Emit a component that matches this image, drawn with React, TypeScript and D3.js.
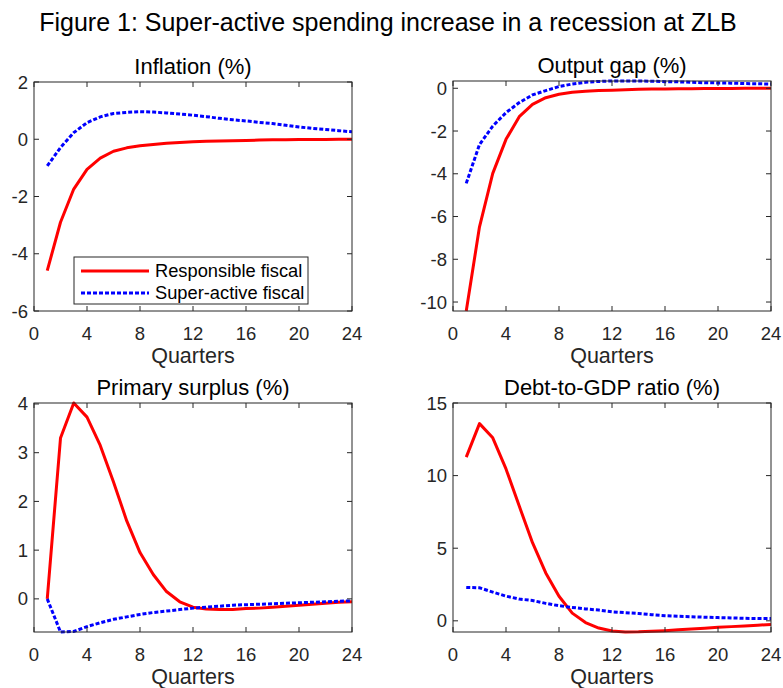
import * as d3 from 'd3';

const quarters = d3.range(1, 25);

// Inflation (%)
const inflationResponsible = [-4.59, -2.9, -1.74, -1.05, -0.66, -0.42, -0.3, -0.23, -0.18, -0.14, -0.11, -0.09, -0.07, -0.06, -0.05, -0.04, -0.03, -0.02, -0.02, -0.01, -0.01, -0.01, 0, 0];
const inflationSuper = [-0.93, -0.29, 0.23, 0.58, 0.78, 0.9, 0.94, 0.965, 0.95, 0.92, 0.88, 0.84, 0.79, 0.73, 0.68, 0.64, 0.59, 0.55, 0.49, 0.43, 0.38, 0.34, 0.3, 0.26];

// Output gap (%)
const outputResponsible = [-10.42, -6.48, -3.98, -2.39, -1.33, -0.75, -0.44, -0.28, -0.19, -0.14, -0.11, -0.09, -0.07, -0.05, -0.04, -0.03, -0.02, -0.02, -0.01, -0.01, -0.01, 0, 0, 0];
const outputSuper = [-4.45, -2.63, -1.77, -1.14, -0.67, -0.31, -0.11, 0.08, 0.2, 0.28, 0.32, 0.34, 0.34, 0.34, 0.33, 0.31, 0.3, 0.28, 0.26, 0.25, 0.24, 0.22, 0.21, 0.2];

// Primary surplus (%)
const surplusResponsible = [0, 3.3, 4.02, 3.73, 3.15, 2.4, 1.6, 0.95, 0.5, 0.15, -0.06, -0.17, -0.21, -0.22, -0.22, -0.2, -0.19, -0.17, -0.15, -0.13, -0.11, -0.09, -0.07, -0.06];
const surplusSuper = [0, -0.68, -0.67, -0.57, -0.49, -0.42, -0.37, -0.32, -0.28, -0.25, -0.22, -0.19, -0.17, -0.15, -0.13, -0.12, -0.11, -0.1, -0.09, -0.08, -0.07, -0.06, -0.05, -0.04];

// Debt-to-GDP ratio (%)
const debtResponsible = [11.27, 13.58, 12.6, 10.46, 7.9, 5.38, 3.3, 1.69, 0.53, -0.12, -0.5, -0.7, -0.77, -0.76, -0.72, -0.68, -0.62, -0.57, -0.51, -0.45, -0.4, -0.35, -0.3, -0.25];
const debtSuper = [2.3, 2.27, 1.98, 1.7, 1.5, 1.4, 1.2, 1.04, 0.92, 0.82, 0.74, 0.62, 0.56, 0.5, 0.42, 0.35, 0.31, 0.28, 0.25, 0.22, 0.2, 0.17, 0.16, 0.16];

const xTicks = [0, 4, 8, 12, 16, 20, 24];
const seriesNames = ['Responsible fiscal', 'Super-active fiscal'];

const panels = [
  { title: 'Inflation (%)', red: inflationResponsible, blue: inflationSuper, domain: [-6, 2], ticks: [-6, -4, -2, 0, 2], box: [34, 82, 352, 311], legend: true },
  { title: 'Output gap (%)', red: outputResponsible, blue: outputSuper, domain: [-10.42, 0.34], ticks: [-10, -8, -6, -4, -2, 0], box: [453, 81, 771, 311], legend: false },
  { title: 'Primary surplus (%)', red: surplusResponsible, blue: surplusSuper, domain: [-0.68, 4.02], ticks: [0, 1, 2, 3, 4], box: [34, 403, 352, 632], legend: false },
  { title: 'Debt-to-GDP ratio (%)', red: debtResponsible, blue: debtSuper, domain: [-0.77, 15], ticks: [0, 5, 10, 15], box: [453, 403, 771, 632], legend: false },
];

const font = '"Liberation Sans", Arial, Helvetica, sans-serif';
const axisColor = '#262626';
const RED = '#ff0000';
const BLUE = '#0000ff';
const DOT = '4,2';

function Panel({ p, idx }: { p: any; idx: number }) {
  const [x0, y0, x1, y1] = p.box;
  const x = d3.scaleLinear().domain([0, 24]).range([x0, x1]);
  const y = d3.scaleLinear().domain(p.domain).range([y1, y0]);
  const line = d3.line<number>().x((_, i) => x(quarters[i])).y(d => y(d));
  const clipId = `clip-${idx}`;
  const tick = 5;

  return (
    <g>
      <defs>
        <clipPath id={clipId}>
          <rect x={x0} y={y0 - 2} width={x1 - x0} height={y1 - y0 + 4} />
        </clipPath>
      </defs>
      <rect x={x0} y={y0} width={x1 - x0} height={y1 - y0} fill="#fff" />
      <g clipPath={`url(#${clipId})`}>
        <path d={line(p.red) || ''} fill="none" stroke={RED} strokeWidth={3} strokeLinejoin="round" />
        <path d={line(p.blue) || ''} fill="none" stroke={BLUE} strokeWidth={3} strokeDasharray={DOT} />
      </g>
      {/* x ticks */}
      {xTicks.map(t => (
        <g key={'x' + t}>
          <line x1={x(t)} x2={x(t)} y1={y1} y2={y1 - tick} stroke={axisColor} />
          <line x1={x(t)} x2={x(t)} y1={y0} y2={y0 + tick} stroke={axisColor} />
          <text x={x(t)} y={y1 + 29} textAnchor="middle" fontSize={18.5} fill={axisColor}>{t}</text>
        </g>
      ))}
      {/* y ticks */}
      {p.ticks.map((t: number) => (
        <g key={'y' + t}>
          <line x1={x0} x2={x0 + tick} y1={y(t)} y2={y(t)} stroke={axisColor} />
          <line x1={x1} x2={x1 - tick} y1={y(t)} y2={y(t)} stroke={axisColor} />
          <text x={x0 - 6} y={y(t) + 6.5} textAnchor="end" fontSize={18.5} fill={axisColor}>{t}</text>
        </g>
      ))}
      <rect x={x0} y={y0} width={x1 - x0} height={y1 - y0} fill="none" stroke={axisColor} strokeWidth={1} />
      <text x={(x0 + x1) / 2} y={y0 - 8} textAnchor="middle" fontSize={22} fill="#000">{p.title}</text>
      <text x={(x0 + x1) / 2} y={y1 + 52} textAnchor="middle" fontSize={21.5} fill={axisColor}>Quarters</text>
      {p.legend && (
        <g transform="translate(74,257)">
          <rect width={234} height={47} fill="#fff" stroke={axisColor} />
          <line x1={7} x2={75} y1={14} y2={14} stroke={RED} strokeWidth={3} />
          <text x={81} y={20} fontSize={18.3} fill="#000">{seriesNames[0]}</text>
          <line x1={7} x2={75} y1={36} y2={36} stroke={BLUE} strokeWidth={3} strokeDasharray={DOT} />
          <text x={81} y={42} fontSize={18.3} fill="#000">{seriesNames[1]}</text>
        </g>
      )}
    </g>
  );
}

export default function App() {
  return (
    <svg width={783} height={688} style={{ position: 'absolute', left: 0, top: 0, fontFamily: font }}>
      <rect width={783} height={688} fill="#fff" />
      <text x={388} y={31} textAnchor="middle" fontSize={25} fill="#000">
        Figure 1: Super-active spending increase in a recession at ZLB
      </text>
      {panels.map((p, i) => <Panel key={i} p={p} idx={i} />)}
    </svg>
  );
}
